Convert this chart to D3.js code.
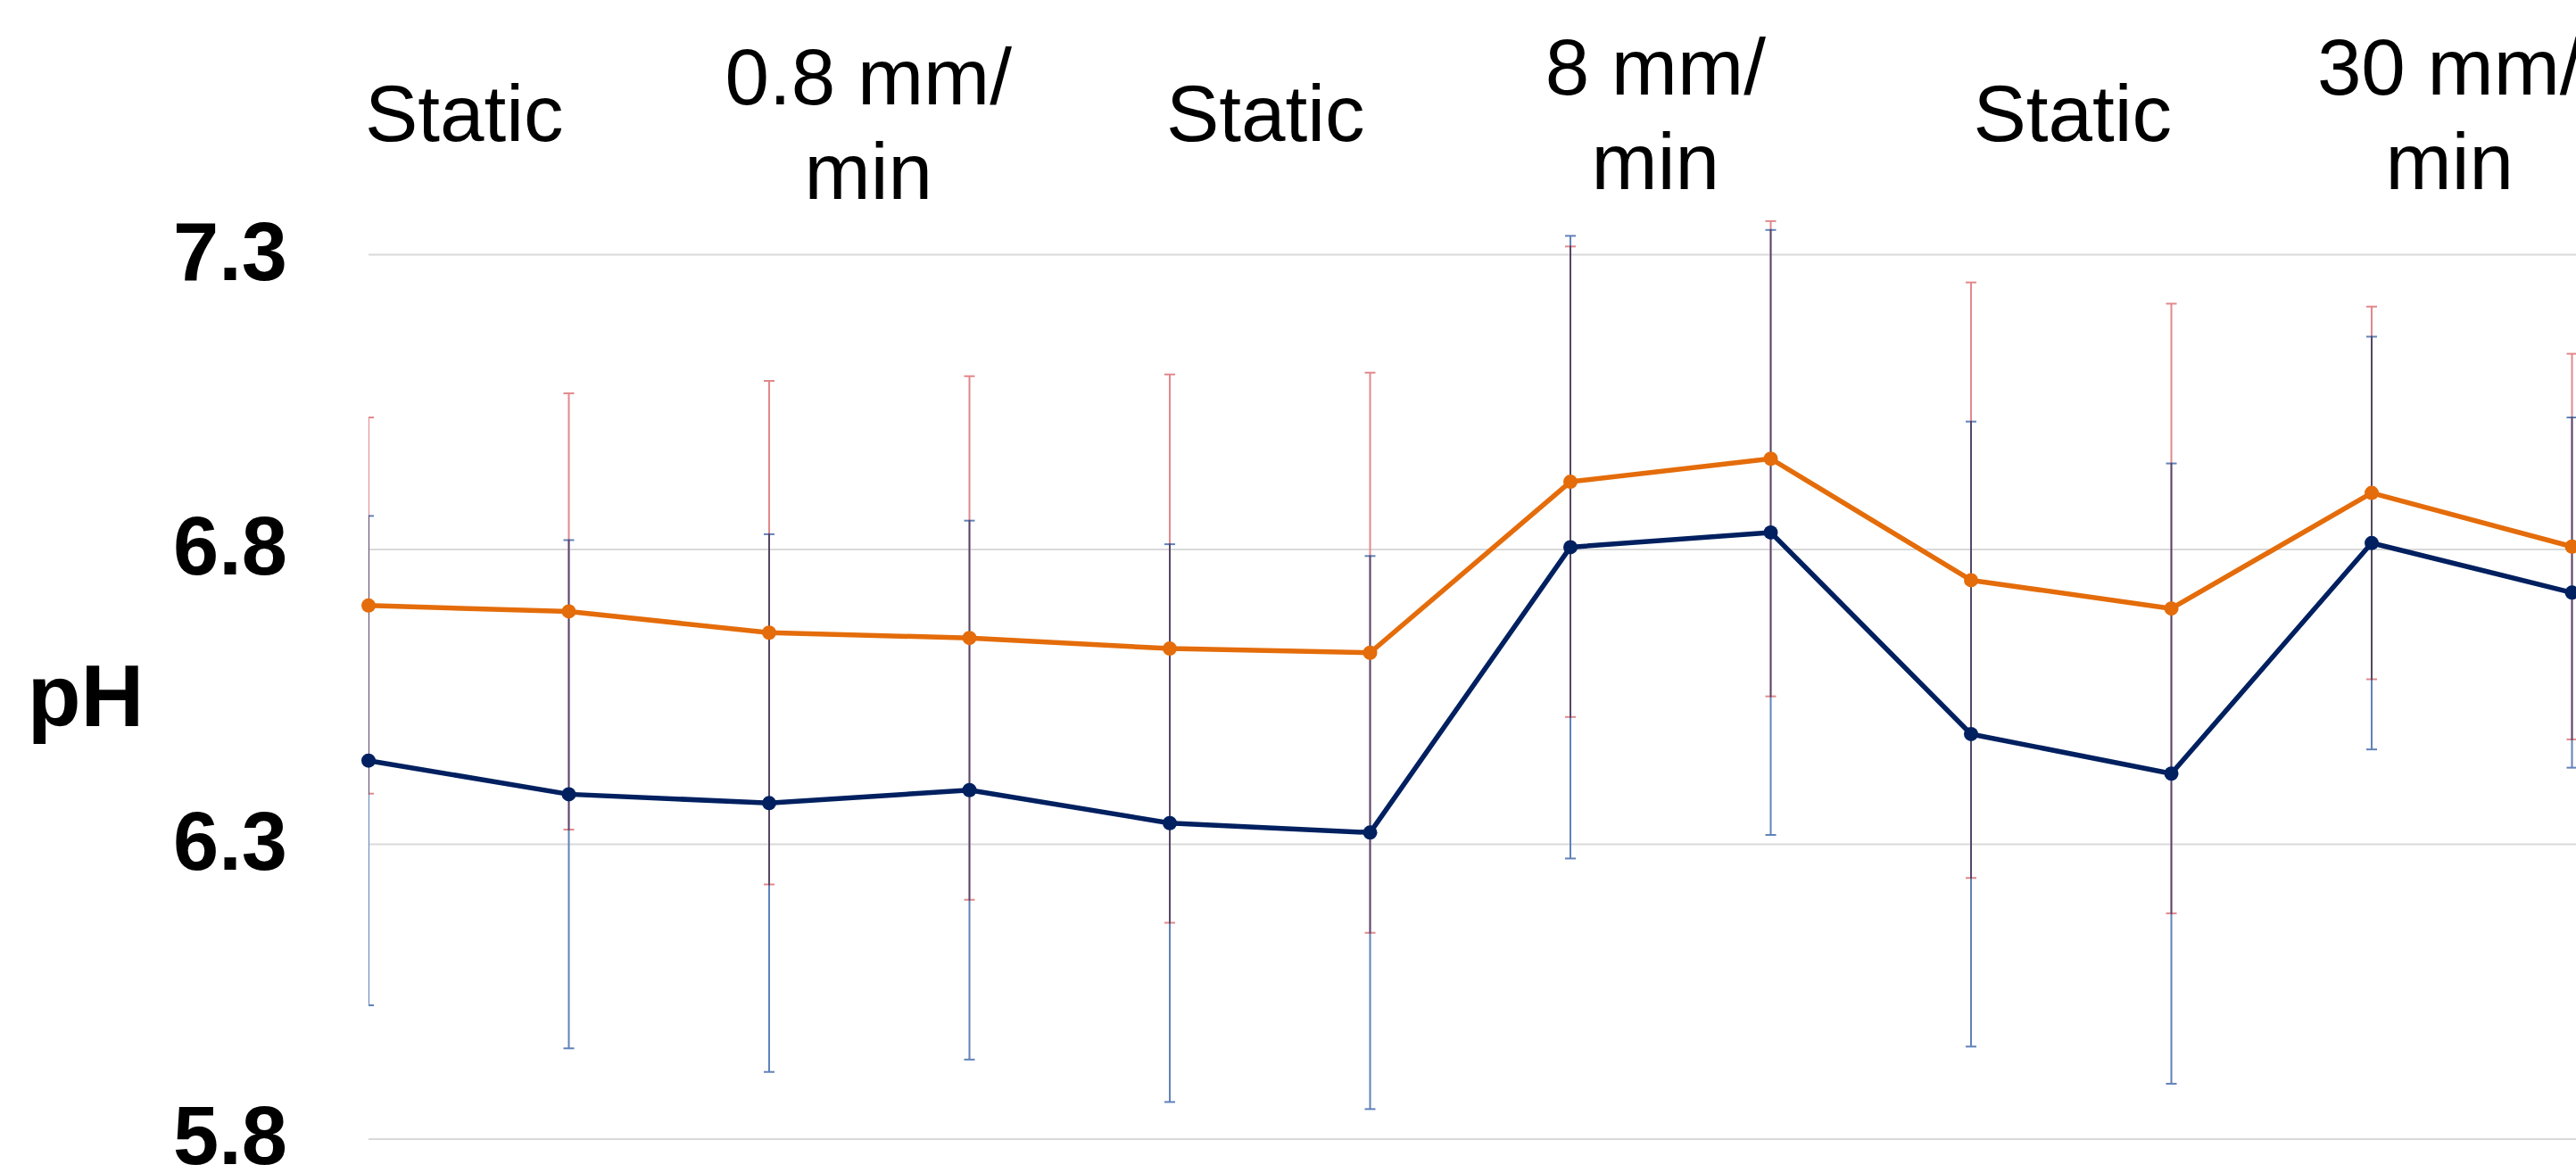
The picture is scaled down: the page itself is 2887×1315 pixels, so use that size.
<!DOCTYPE html>
<html>
<head>
<meta charset="utf-8">
<script src="https://cdn.jsdelivr.net/npm/d3@7"></script>
<style>
  html, body { margin: 0; padding: 0; background: #ffffff; }
  svg { display: block; }
</style>
</head>
<body>
<script>
// ---------------- DATA ----------------
const categories = ["Static 1", "Static 2", "0.8 mm/min 1", "0.8 mm/min 2",
                    "Static 3", "Static 4", "8 mm/min 1", "8 mm/min 2",
                    "Static 5", "Static 6", "30 mm/min 1", "30 mm/min 2"];
const orangeMean = [6.704, 6.694, 6.658, 6.649, 6.631, 6.624, 6.914, 6.953, 6.747, 6.699, 6.895, 6.804];
const orangeSD   = [0.319, 0.370, 0.427, 0.444, 0.465, 0.475, 0.399, 0.403, 0.505, 0.517, 0.316, 0.327];
const navyMean   = [6.441, 6.384, 6.369, 6.391, 6.335, 6.319, 6.803, 6.828, 6.486, 6.419, 6.810, 6.726];
const navySD     = [0.415, 0.431, 0.456, 0.457, 0.473, 0.469, 0.528, 0.513, 0.530, 0.526, 0.350, 0.297];
const headerLabels = [["Static"], ["0.8 mm/", "min"], ["Static"], ["8 mm/", "min"], ["Static"], ["30 mm/", "min"]];
const yTicks = [5.8, 6.3, 6.8, 7.3];
const yTitle = "pH";

// ---------------- LAYOUT ----------------
const W = 2887, H = 1315;
const plotLeft = 413, lastX = 2882.5;
const yTop = 284.9, yBottom = 1276.4;
const headerDx = [-5, -1, -5, -17, 1.5, -25];
const headerDy = [0, 11, 0, 0, 0, 0];

const svg = d3.select("body").append("svg")
  .attr("width", W).attr("height", H)
  .attr("viewBox", `0 0 ${W} ${H}`);

svg.append("rect").attr("width", W).attr("height", H).attr("fill", "#ffffff");

const x = d3.scalePoint().domain(categories).range([plotLeft, lastX]);
const y = d3.scaleLinear().domain([5.8, 7.3]).range([yBottom, yTop]);

// clip for error bars (plot area)
svg.append("defs").append("clipPath").attr("id", "plotclip")
  .append("rect").attr("x", plotLeft).attr("y", 0).attr("width", W - plotLeft).attr("height", H);

// gridlines via axis
const yAxisGrid = d3.axisLeft(y).tickValues(yTicks).tickSize(-(W - plotLeft)).tickFormat("");
const gGrid = svg.append("g").attr("transform", `translate(${plotLeft},0)`).call(yAxisGrid);
gGrid.select(".domain").remove();
gGrid.selectAll(".tick line").attr("stroke", "#d9d9d9").attr("stroke-width", 2);

// y tick labels
const gTickLabels = svg.append("g");
gTickLabels.selectAll("text").data(yTicks).join("text")
  .attr("x", 322)
  .attr("y", d => y(d) + 29)
  .attr("text-anchor", "end")
  .attr("font-family", "'Liberation Sans', Arial, sans-serif")
  .attr("font-weight", "bold")
  .attr("font-size", 92)
  .attr("fill", "#000000")
  .text(d => d3.format(".1f")(d));

// y title
svg.append("text")
  .attr("x", 96).attr("y", 814)
  .attr("text-anchor", "middle")
  .attr("font-family", "'Liberation Sans', Arial, sans-serif")
  .attr("font-weight", "bold")
  .attr("font-size", 98)
  .attr("fill", "#000000")
  .text(yTitle);

// header labels (each spans a pair of categories)
const gHead = svg.append("g")
  .attr("font-family", "'Liberation Sans', Arial, sans-serif")
  .attr("font-size", 89)
  .attr("fill", "#000000");
headerLabels.forEach((lines, i) => {
  const cx = (x(categories[2 * i]) + x(categories[2 * i + 1])) / 2 + headerDx[i];
  const t = gHead.append("text").attr("text-anchor", "middle");
  if (lines.length === 1) {
    t.append("tspan").attr("x", cx).attr("y", 158 + headerDy[i]).text(lines[0]);
  } else {
    lines.forEach((ln, j) => {
      t.append("tspan").attr("x", cx).attr("y", 106 + headerDy[i] + j * 106).text(ln);
    });
  }
});

// series
const series = [
  { mean: orangeMean, sd: orangeSD, color: "#e46c0a", barColor: "#e2888b" },
  { mean: navyMean,   sd: navySD,   color: "#002060", barColor: "#6182ba" }
];

// error bars (multiply blend, clipped at plot left)
const gErr = svg.append("g").attr("clip-path", "url(#plotclip)");
series.forEach(s => {
  const g = gErr.append("g").style("mix-blend-mode", "multiply");
  const d = categories.map((c, i) => ({ c, m: s.mean[i], e: s.sd[i] }));
  g.selectAll("line.v").data(d).join("line").attr("class", "v")
    .attr("x1", p => x(p.c)).attr("x2", p => x(p.c))
    .attr("y1", p => y(p.m - p.e)).attr("y2", p => y(p.m + p.e))
    .attr("stroke", s.barColor).attr("stroke-width", 2);
  ["top", "bot"].forEach(k => {
    g.selectAll("line." + k).data(d).join("line").attr("class", k)
      .attr("x1", p => x(p.c) - 6).attr("x2", p => x(p.c) + 6)
      .attr("y1", p => y(k === "top" ? p.m + p.e : p.m - p.e))
      .attr("y2", p => y(k === "top" ? p.m + p.e : p.m - p.e))
      .attr("stroke", s.barColor).attr("stroke-width", 2);
  });
});

// lines and markers
const line = d3.line().x(d => x(d.c)).y(d => y(d.m));
series.forEach(s => {
  const d = categories.map((c, i) => ({ c, m: s.mean[i] }));
  svg.append("path").datum(d)
    .attr("d", line)
    .attr("fill", "none")
    .attr("stroke", s.color)
    .attr("stroke-width", 5.5)
    .attr("stroke-linejoin", "round");
  svg.append("g").selectAll("circle").data(d).join("circle")
    .attr("cx", p => x(p.c)).attr("cy", p => y(p.m))
    .attr("r", 8)
    .attr("fill", s.color);
});
</script>
</body>
</html>
